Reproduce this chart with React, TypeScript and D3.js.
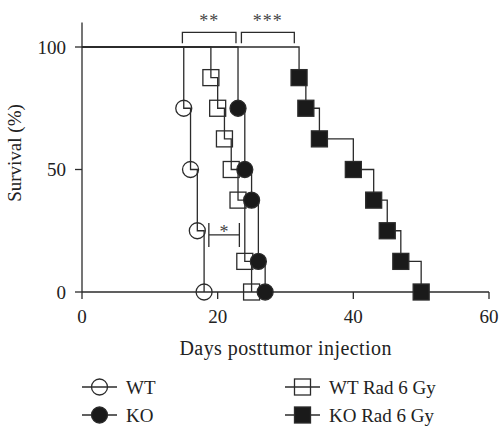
import * as d3 from "d3";

// Kaplan-Meier steps: day of each event and survival (%) after it
const wtDays = [0, 15, 16, 17, 18];
const wtSurv = [100, 75, 50, 25, 0];
const koDays = [0, 23, 24, 25, 26, 27];
const koSurv = [100, 75, 50, 37.5, 12.5, 0];
const wtRadDays = [0, 19, 20, 21, 22, 23, 24, 25];
const wtRadSurv = [100, 87.5, 75, 62.5, 50, 37.5, 12.5, 0];
const koRadDays = [0, 32, 33, 35, 40, 43, 45, 47, 50];
const koRadSurv = [100, 87.5, 75, 62.5, 50, 37.5, 25, 12.5, 0];

const xTicks = [0, 20, 40, 60];
const yTicks = [0, 50, 100];

// significance brackets: [from day, to day, label]
const bracketsTop: [number, number, string][] = [
  [14.8, 22.7, "**"],
  [23.5, 31.3, "***"],
];
const starBracket: [number, number, string] = [18.7, 23.2, "*"];

const W = 500;
const H = 429;
const margin = { left: 82, right: 11, top: 47, bottom: 137 };

const INK = "#2b2b2b";
const FONT = "'Liberation Serif', 'DejaVu Serif', serif";

type Pt = { d: number; s: number };

export default function App() {
  const x = d3.scaleLinear().domain([0, 60]).range([margin.left, W - margin.right]);
  const y = d3.scaleLinear().domain([0, 100]).range([H - margin.bottom, margin.top]);

  const line = d3
    .line<Pt>()
    .x((p) => x(p.d))
    .y((p) => y(p.s))
    .curve(d3.curveStepAfter);

  const series = [
    { name: "WT", days: wtDays, surv: wtSurv, shape: "circle", filled: false },
    { name: "WT Rad 6 Gy", days: wtRadDays, surv: wtRadSurv, shape: "square", filled: false },
    { name: "KO", days: koDays, surv: koSurv, shape: "circle", filled: true },
    { name: "KO Rad 6 Gy", days: koRadDays, surv: koRadSurv, shape: "square", filled: true },
  ];

  const marker = (shape: string, filled: boolean, cx: number, cy: number, key: string) =>
    shape === "circle" ? (
      <circle key={key} cx={cx} cy={cy} r={8} fill={filled ? "#1a1a1a" : "none"} stroke={INK} strokeWidth={1.3} />
    ) : (
      <rect key={key} x={cx - 8} y={cy - 8} width={16} height={16} fill={filled ? "#1a1a1a" : "none"} stroke={INK} strokeWidth={1.3} />
    );

  const y0 = y(0);
  const axisTop = y(110);

  const legend = [
    { s: series[0], lx: 82, ly: 387 },
    { s: series[2], lx: 82, ly: 415 },
    { s: series[1], lx: 285, ly: 387 },
    { s: series[3], lx: 285, ly: 415 },
  ];

  return (
    <svg width={W} height={H} style={{ position: "absolute", left: 0, top: 0 }} fontFamily={FONT}>
      <rect width={W} height={H} fill="#fff" />
      {/* axes */}
      <line x1={x(0)} x2={x(0)} y1={axisTop} y2={y0} stroke={INK} strokeWidth={1.3} />
      <line x1={x(0)} x2={x(60)} y1={y0} y2={y0} stroke={INK} strokeWidth={1.3} />
      {yTicks.map((t) => (
        <g key={"y" + t}>
          <line x1={x(0) - 7} x2={x(0)} y1={y(t)} y2={y(t)} stroke={INK} strokeWidth={1.3} />
          <text x={x(0) - 16} y={y(t)} dy="0.35em" textAnchor="end" fontSize={19} fill="#222">
            {t}
          </text>
        </g>
      ))}
      {xTicks.map((t) => (
        <g key={"x" + t}>
          <line x1={x(t)} x2={x(t)} y1={y0} y2={y0 + 7} stroke={INK} strokeWidth={1.3} />
          <text x={x(t)} y={y0 + 31} textAnchor="middle" fontSize={19} fill="#222">
            {t}
          </text>
        </g>
      ))}
      <text
        x={(x(0) + x(60)) / 2}
        y={355}
        textAnchor="middle"
        fontSize={20}
        textLength={212}
        lengthAdjust="spacing"
        fill="#222"
      >
        Days posttumor injection
      </text>
      <text transform="translate(21,153) rotate(-90)" textAnchor="middle" fontSize={19} fill="#222">
        Survival (%)
      </text>

      {/* survival curves */}
      {series.map((s) => (
        <path
          key={"l" + s.name}
          d={line(s.days.map((d, i) => ({ d, s: s.surv[i] }))) ?? ""}
          fill="none"
          stroke={INK}
          strokeWidth={1.3}
        />
      ))}
      {series.map((s) =>
        s.days.slice(1).map((d, i) => marker(s.shape, s.filled, x(d), y(s.surv[i + 1]), s.name + d))
      )}

      {/* significance brackets */}
      {bracketsTop.map(([a, b, lab]) => (
        <g key={lab}>
          <path
            d={`M${x(a)},${y(101.5)}V${y(106)}H${x(b)}V${y(101.5)}`}
            fill="none"
            stroke={INK}
            strokeWidth={1.3}
          />
          <text
            x={(x(a) + x(b)) / 2}
            y={y(106) - 5}
            textAnchor="middle"
            fontSize={18}
            letterSpacing={1}
            fill="#444"
          >
            {lab}
          </text>
        </g>
      ))}
      <g>
        <path
          d={`M${x(starBracket[0])},${y(28.2)}V${y(18.4)}M${x(starBracket[0])},${y(23.3)}H${x(starBracket[1])}M${x(starBracket[1])},${y(28.2)}V${y(18.4)}`}
          fill="none"
          stroke={INK}
          strokeWidth={1.3}
        />
        <text x={(x(starBracket[0]) + x(starBracket[1])) / 2} y={y(23.3) + 3} textAnchor="middle" fontSize={18} fill="#444">
          {starBracket[2]}
        </text>
      </g>

      {/* legend */}
      {legend.map(({ s, lx, ly }) => (
        <g key={"lg" + s.name}>
          <line x1={lx} x2={lx + 35} y1={ly} y2={ly} stroke={INK} strokeWidth={1.3} />
          {marker(s.shape, s.filled, lx + 17.5, ly, "m" + s.name)}
          <text x={lx + 44} y={ly} dy="0.35em" fontSize={19} fill="#222">
            {s.name}
          </text>
        </g>
      ))}
    </svg>
  );
}
